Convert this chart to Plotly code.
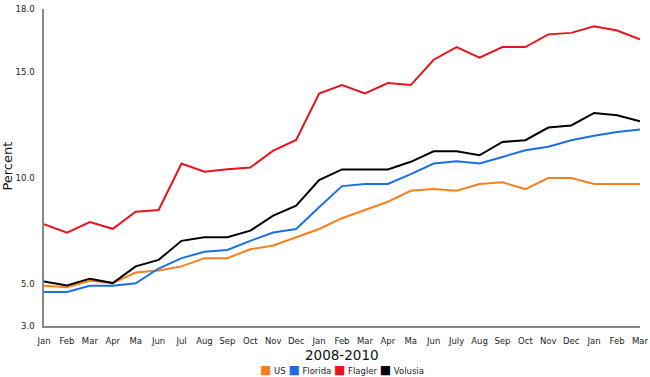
import plotly.graph_objects as go

months = ["Jan", "Feb", "Mar", "Apr", "Ma", "Jun", "Jul", "Aug", "Sep", "Oct", "Nov", "Dec",
          "Jan", "Feb", "Mar", "Apr", "Ma", "Jun", "July", "Aug", "Sep", "Oct", "Nov", "Dec",
          "Jan", "Feb", "Mar"]

us = [4.9, 4.83, 5.14, 5.03, 5.53, 5.63, 5.82, 6.21, 6.21, 6.63, 6.81, 7.2,
      7.59, 8.1, 8.49, 8.88, 9.4, 9.48, 9.4, 9.72, 9.8, 9.48, 10.0, 10.0,
      9.72, 9.72, 9.72]
florida = [4.61, 4.61, 4.9, 4.9, 5.02, 5.72, 6.21, 6.51, 6.6, 7.03, 7.42, 7.59,
           8.62, 9.62, 9.72, 9.72, 10.19, 10.69, 10.8, 10.69, 11.0, 11.32, 11.48, 11.79,
           12.0, 12.18, 12.3]
flagler = [7.82, 7.42, 7.92, 7.6, 8.41, 8.49, 10.69, 10.3, 10.42, 10.5, 11.3, 11.8,
           14.0, 14.4, 14.0, 14.5, 14.4, 15.6, 16.2, 15.7, 16.2, 16.2, 16.8, 16.87,
           17.18, 16.98, 16.56]
volusia = [5.11, 4.92, 5.24, 5.03, 5.82, 6.13, 7.03, 7.2, 7.2, 7.51, 8.22, 8.69,
           9.9, 10.41, 10.41, 10.41, 10.77, 11.27, 11.27, 11.08, 11.71, 11.79, 12.39, 12.49,
           13.08, 12.97, 12.69]

series_names = ["US", "Florida", "Flagler", "Volusia"]
series_values = [us, florida, flagler, volusia]
series_colors = ["#f7801e", "#1a6ee6", "#e8141b", "#000000"]

y_ticks = [3.0, 5.0, 10.0, 15.0, 18.0]
x_title = "2008-2010"
y_title = "Percent"

FONT = "DejaVu Sans"
x_idx = list(range(len(months)))

fig = go.Figure()
for name, vals, col in zip(series_names, series_values, series_colors):
    fig.add_trace(go.Scatter(x=x_idx, y=vals, mode="lines", name=name,
                             line=dict(color=col, width=2), showlegend=False))

legend_text = " ".join(
    f"<span style='color:{c}; font-size:12px'>■</span> {n}"
    for n, c in zip(series_names, series_colors)
)

fig.update_layout(
    width=650, height=377,
    margin=dict(l=44, r=10, t=9, b=51, autoexpand=False),
    paper_bgcolor="white", plot_bgcolor="white",
    font=dict(family=FONT, color="#222222", size=8),
    showlegend=False,
    xaxis=dict(
        range=[0, len(months) - 1], automargin=False,
        tickmode="array", tickvals=x_idx, ticktext=months,
        showgrid=False, zeroline=False,
        showline=True, linecolor="#888888", linewidth=1.5,
        ticks="", ticklabelstandoff=6,
        tickfont=dict(size=8.5, family=FONT, color="#222222"),
    ),
    yaxis=dict(
        range=[3, 18], automargin=False,
        tickmode="array", tickvals=y_ticks, ticktext=[f"{v:.1f}" for v in y_ticks],
        showgrid=False, zeroline=False,
        showline=True, linecolor="#888888", linewidth=1.5,
        ticks="", ticklabelstandoff=6,
        tickfont=dict(size=8.5, family=FONT, color="#222222"),
    ),
    annotations=[
        dict(text=x_title, x=0.5, y=-0.0915, xref="paper", yref="paper",
             xanchor="center", yanchor="middle", showarrow=False,
             font=dict(size=13.5, family=FONT, color="#111111")),
        dict(text=y_title, x=-0.061, y=0.505, xref="paper", yref="paper", textangle=-90,
             xanchor="center", yanchor="middle", showarrow=False,
             font=dict(size=13, family=FONT, color="#111111")),
        dict(text=legend_text, x=0.5, y=-0.14, xref="paper", yref="paper",
             xanchor="center", yanchor="middle", showarrow=False,
             font=dict(size=8.5, family=FONT, color="#222222")),
    ],
)

# remove the browser's default 8px body margin so the figure sits at the page origin
fig.write_html("out.html", config={"displayModeBar": False},
               post_script="document.body.style.margin='0';")
